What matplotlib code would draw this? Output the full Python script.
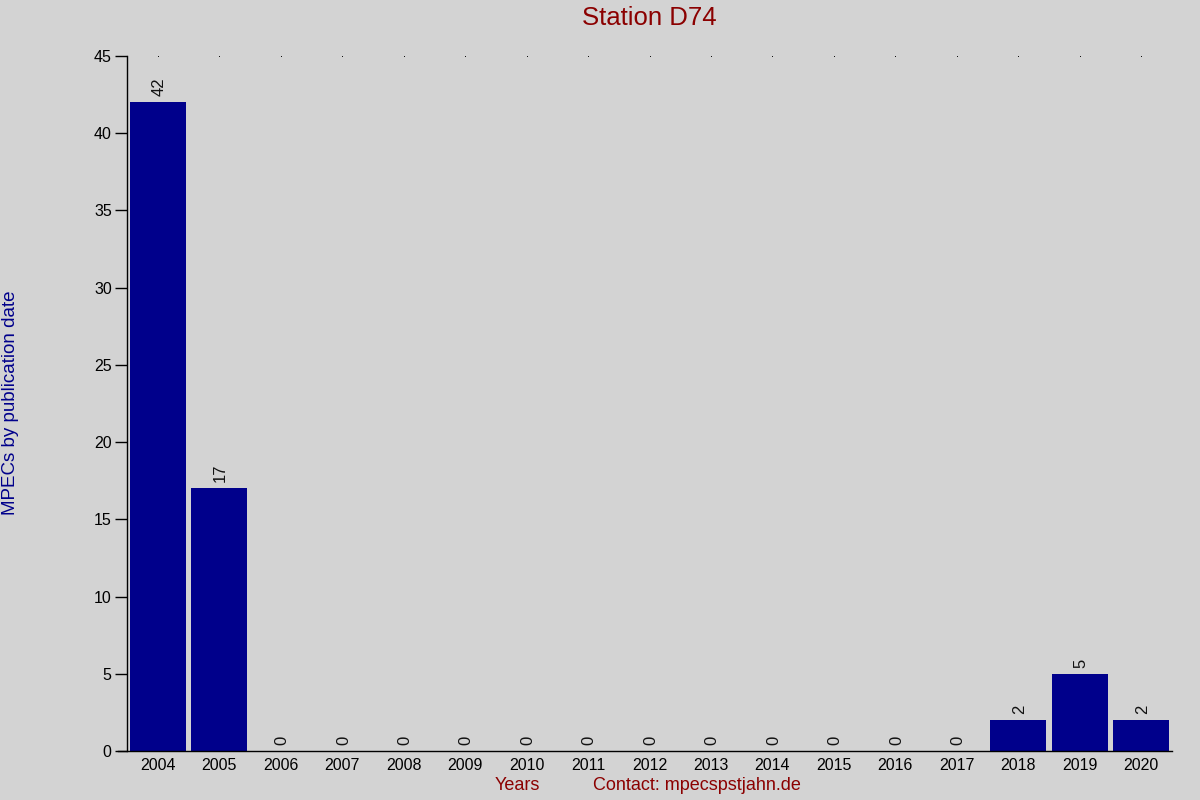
import matplotlib
matplotlib.use("Agg")
import matplotlib.pyplot as plt

years = [2004, 2005, 2006, 2007, 2008, 2009, 2010, 2011, 2012, 2013,
         2014, 2015, 2016, 2017, 2018, 2019, 2020]
counts = [42, 17, 0, 0, 0, 0, 0, 0, 0, 0, 0, 0, 0, 0, 2, 5, 2]
yticks = [0, 5, 10, 15, 20, 25, 30, 35, 40, 45]

plt.rcParams['font.family'] = ['Liberation Sans', 'DejaVu Sans']
bg = '#d3d3d3'
fig = plt.figure(figsize=(12, 8), dpi=100, facecolor=bg)
ax = fig.add_axes([127/1200, 1-751/800, (1172-127)/1200, (751-56)/800])
ax.set_facecolor(bg)

x = list(range(len(years)))
ax.bar(x, counts, width=0.91, color='#00008b', zorder=2)
for xi, c in zip(x, counts):
    ax.text(xi + 0.02, c + 0.4, str(c), rotation=90, ha='center', va='bottom',
            fontsize=12, color='#111111')
ax.plot(x, [45]*len(x), linestyle='none', marker='s', markersize=0.6,
        markeredgewidth=0, color='black', clip_on=False)

ax.set_xlim(-0.5, len(years) - 0.5)
ax.set_ylim(0, 45)
ax.set_xticks(x)
ax.set_xticklabels([str(y) for y in years], fontsize=11.5)
ax.set_yticks(yticks)
ax.set_yticklabels([str(t) for t in yticks], fontsize=11.5)
ax.tick_params(axis='x', length=0, pad=5)
ax.tick_params(axis='y', length=9, width=1, direction='out', pad=2)
for s in ['top', 'right']:
    ax.spines[s].set_visible(False)
ax.spines['left'].set_linewidth(1)
ax.spines['bottom'].set_linewidth(1)
ax.spines['bottom'].set_bounds(-0.65, len(years) - 0.5)

fig.text(649/1200, 1-18/800, 'Station D74', ha='center', va='center',
         fontsize=18.5, color='#8b0000')
fig.text(11/1200, 1-403/800, 'MPECs by publication date', rotation=90,
         ha='center', va='center', fontsize=13.5, color='#00008b')
fig.text(517/1200, 1-786/800, 'Years', ha='center', va='center',
         fontsize=13, color='#8b0000')
fig.text(697/1200, 1-786/800, 'Contact: mpecspstjahn.de', ha='center',
         va='center', fontsize=13, color='#8b0000')

fig.savefig('out.png', dpi=100, facecolor=bg)
